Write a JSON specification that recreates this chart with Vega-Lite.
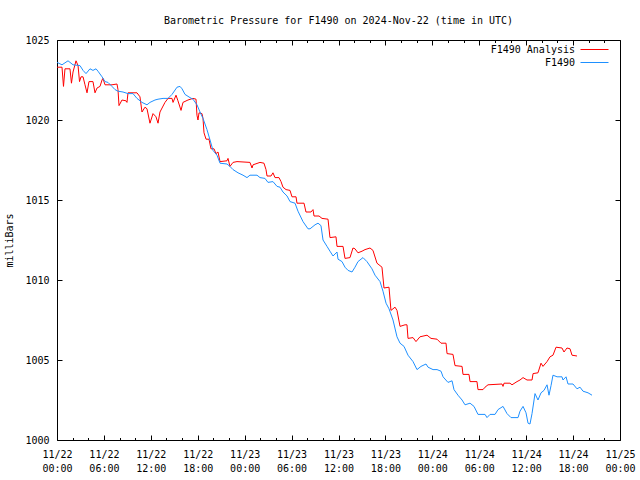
{
  "$schema": "https://vega.github.io/schema/vega-lite/v6.json",
  "autosize": "none",
  "width": 563,
  "height": 400,
  "padding": {"left": 57, "top": 40, "right": 20, "bottom": 40},
  "background": "white",
  "title": {
    "text": "Barometric Pressure for F1490 on 2024-Nov-22 (time in UTC)",
    "font": "DejaVu Sans Mono",
    "fontSize": 10,
    "fontWeight": "normal",
    "color": "black",
    "anchor": "middle",
    "frame": "group",
    "offset": 9
  },
  "config": {
    "view": {"stroke": "black", "strokeWidth": 1},
    "axis": {
      "labelFont": "DejaVu Sans Mono",
      "labelFontSize": 10,
      "labelColor": "black",
      "titleFont": "DejaVu Sans Mono",
      "titleFontSize": 10,
      "titleFontWeight": "normal",
      "titleColor": "black",
      "tickColor": "black",
      "tickWidth": 1,
      "domain": false,
      "grid": false,
      "labelFlush": false,
      "labelOverlap": false
    },
    "legend": {
      "labelFont": "DejaVu Sans Mono",
      "labelFontSize": 10,
      "labelColor": "black"
    }
  },
  "datasets": {
    "pressure": [
      {"series": "F1490 Analysis", "hour": 0, "mb": 1023.3},
      {"series": "F1490 Analysis", "hour": 0.64, "mb": 1023.3},
      {"series": "F1490 Analysis", "hour": 0.83, "mb": 1022.1},
      {"series": "F1490 Analysis", "hour": 1.02, "mb": 1023.2},
      {"series": "F1490 Analysis", "hour": 1.66, "mb": 1023.2},
      {"series": "F1490 Analysis", "hour": 1.85, "mb": 1022.3},
      {"series": "F1490 Analysis", "hour": 2.05, "mb": 1023.0},
      {"series": "F1490 Analysis", "hour": 2.43, "mb": 1023.7},
      {"series": "F1490 Analysis", "hour": 2.69, "mb": 1023.4},
      {"series": "F1490 Analysis", "hour": 2.88, "mb": 1022.4},
      {"series": "F1490 Analysis", "hour": 3.07, "mb": 1022.7},
      {"series": "F1490 Analysis", "hour": 3.33, "mb": 1022.7},
      {"series": "F1490 Analysis", "hour": 3.58, "mb": 1022.2},
      {"series": "F1490 Analysis", "hour": 3.84, "mb": 1021.7},
      {"series": "F1490 Analysis", "hour": 4.09, "mb": 1022.4},
      {"series": "F1490 Analysis", "hour": 4.6, "mb": 1022.4},
      {"series": "F1490 Analysis", "hour": 4.86, "mb": 1021.7},
      {"series": "F1490 Analysis", "hour": 5.12, "mb": 1022.0},
      {"series": "F1490 Analysis", "hour": 5.5, "mb": 1022.1},
      {"series": "F1490 Analysis", "hour": 5.76, "mb": 1022.5},
      {"series": "F1490 Analysis", "hour": 5.88, "mb": 1022.6},
      {"series": "F1490 Analysis", "hour": 6.14, "mb": 1022.2},
      {"series": "F1490 Analysis", "hour": 7.03, "mb": 1022.2},
      {"series": "F1490 Analysis", "hour": 7.67, "mb": 1022.25},
      {"series": "F1490 Analysis", "hour": 7.8, "mb": 1021.9},
      {"series": "F1490 Analysis", "hour": 7.93, "mb": 1020.9},
      {"series": "F1490 Analysis", "hour": 8.31, "mb": 1021.25},
      {"series": "F1490 Analysis", "hour": 8.82, "mb": 1021.2},
      {"series": "F1490 Analysis", "hour": 8.95, "mb": 1021.1},
      {"series": "F1490 Analysis", "hour": 9.08, "mb": 1021.7},
      {"series": "F1490 Analysis", "hour": 10.23, "mb": 1021.7},
      {"series": "F1490 Analysis", "hour": 10.61, "mb": 1021.45},
      {"series": "F1490 Analysis", "hour": 10.87, "mb": 1020.5},
      {"series": "F1490 Analysis", "hour": 11.25, "mb": 1020.8},
      {"series": "F1490 Analysis", "hour": 11.51, "mb": 1020.7},
      {"series": "F1490 Analysis", "hour": 11.7, "mb": 1020.25},
      {"series": "F1490 Analysis", "hour": 11.89, "mb": 1019.8},
      {"series": "F1490 Analysis", "hour": 12.28, "mb": 1020.4},
      {"series": "F1490 Analysis", "hour": 12.66, "mb": 1020.2},
      {"series": "F1490 Analysis", "hour": 12.92, "mb": 1019.8},
      {"series": "F1490 Analysis", "hour": 13.17, "mb": 1020.5},
      {"series": "F1490 Analysis", "hour": 13.81, "mb": 1021.1},
      {"series": "F1490 Analysis", "hour": 14.2, "mb": 1021.35},
      {"series": "F1490 Analysis", "hour": 14.71, "mb": 1021.35},
      {"series": "F1490 Analysis", "hour": 14.84, "mb": 1021.1},
      {"series": "F1490 Analysis", "hour": 15.22, "mb": 1021.55},
      {"series": "F1490 Analysis", "hour": 15.47, "mb": 1021.2},
      {"series": "F1490 Analysis", "hour": 15.86, "mb": 1020.6},
      {"series": "F1490 Analysis", "hour": 16.11, "mb": 1021.1},
      {"series": "F1490 Analysis", "hour": 16.75, "mb": 1021.25},
      {"series": "F1490 Analysis", "hour": 17.39, "mb": 1021.35},
      {"series": "F1490 Analysis", "hour": 17.78, "mb": 1021.3},
      {"series": "F1490 Analysis", "hour": 17.9, "mb": 1020.3},
      {"series": "F1490 Analysis", "hour": 18.03, "mb": 1020.0},
      {"series": "F1490 Analysis", "hour": 18.16, "mb": 1020.45},
      {"series": "F1490 Analysis", "hour": 18.54, "mb": 1020.4},
      {"series": "F1490 Analysis", "hour": 18.67, "mb": 1020.1},
      {"series": "F1490 Analysis", "hour": 18.8, "mb": 1019.2},
      {"series": "F1490 Analysis", "hour": 19.06, "mb": 1018.8},
      {"series": "F1490 Analysis", "hour": 19.44, "mb": 1018.8},
      {"series": "F1490 Analysis", "hour": 19.69, "mb": 1018.2},
      {"series": "F1490 Analysis", "hour": 20.08, "mb": 1018.2},
      {"series": "F1490 Analysis", "hour": 20.33, "mb": 1017.9},
      {"series": "F1490 Analysis", "hour": 20.59, "mb": 1018.0},
      {"series": "F1490 Analysis", "hour": 20.85, "mb": 1017.4},
      {"series": "F1490 Analysis", "hour": 21.74, "mb": 1017.45},
      {"series": "F1490 Analysis", "hour": 21.87, "mb": 1017.6},
      {"series": "F1490 Analysis", "hour": 22.12, "mb": 1017.1},
      {"series": "F1490 Analysis", "hour": 22.51, "mb": 1017.35},
      {"series": "F1490 Analysis", "hour": 23.02, "mb": 1017.4},
      {"series": "F1490 Analysis", "hour": 24.68, "mb": 1017.35},
      {"series": "F1490 Analysis", "hour": 24.94, "mb": 1017.0},
      {"series": "F1490 Analysis", "hour": 25.07, "mb": 1017.2},
      {"series": "F1490 Analysis", "hour": 25.96, "mb": 1017.35},
      {"series": "F1490 Analysis", "hour": 26.47, "mb": 1017.3},
      {"series": "F1490 Analysis", "hour": 26.73, "mb": 1016.9},
      {"series": "F1490 Analysis", "hour": 26.86, "mb": 1016.5},
      {"series": "F1490 Analysis", "hour": 27.37, "mb": 1016.5},
      {"series": "F1490 Analysis", "hour": 27.62, "mb": 1016.7},
      {"series": "F1490 Analysis", "hour": 27.88, "mb": 1016.4},
      {"series": "F1490 Analysis", "hour": 28.39, "mb": 1016.4},
      {"series": "F1490 Analysis", "hour": 28.65, "mb": 1016.15},
      {"series": "F1490 Analysis", "hour": 28.9, "mb": 1015.8},
      {"series": "F1490 Analysis", "hour": 29.29, "mb": 1015.65},
      {"series": "F1490 Analysis", "hour": 29.8, "mb": 1015.6},
      {"series": "F1490 Analysis", "hour": 30.05, "mb": 1015.2},
      {"series": "F1490 Analysis", "hour": 30.57, "mb": 1015.2},
      {"series": "F1490 Analysis", "hour": 30.69, "mb": 1014.8},
      {"series": "F1490 Analysis", "hour": 31.59, "mb": 1014.8},
      {"series": "F1490 Analysis", "hour": 31.84, "mb": 1014.25},
      {"series": "F1490 Analysis", "hour": 32.48, "mb": 1014.25},
      {"series": "F1490 Analysis", "hour": 32.74, "mb": 1014.4},
      {"series": "F1490 Analysis", "hour": 32.87, "mb": 1014.0},
      {"series": "F1490 Analysis", "hour": 33.51, "mb": 1014.0},
      {"series": "F1490 Analysis", "hour": 33.89, "mb": 1013.85},
      {"series": "F1490 Analysis", "hour": 34.66, "mb": 1013.8},
      {"series": "F1490 Analysis", "hour": 34.91, "mb": 1012.65},
      {"series": "F1490 Analysis", "hour": 35.68, "mb": 1012.7},
      {"series": "F1490 Analysis", "hour": 35.81, "mb": 1012.1},
      {"series": "F1490 Analysis", "hour": 36.58, "mb": 1012.1},
      {"series": "F1490 Analysis", "hour": 36.83, "mb": 1011.35},
      {"series": "F1490 Analysis", "hour": 37.47, "mb": 1011.4},
      {"series": "F1490 Analysis", "hour": 37.85, "mb": 1012.0},
      {"series": "F1490 Analysis", "hour": 38.11, "mb": 1011.95},
      {"series": "F1490 Analysis", "hour": 38.49, "mb": 1011.7},
      {"series": "F1490 Analysis", "hour": 39.01, "mb": 1011.8},
      {"series": "F1490 Analysis", "hour": 39.39, "mb": 1011.9},
      {"series": "F1490 Analysis", "hour": 40.03, "mb": 1012.0},
      {"series": "F1490 Analysis", "hour": 40.41, "mb": 1011.85},
      {"series": "F1490 Analysis", "hour": 40.92, "mb": 1011.05},
      {"series": "F1490 Analysis", "hour": 41.56, "mb": 1010.8},
      {"series": "F1490 Analysis", "hour": 41.82, "mb": 1009.5},
      {"series": "F1490 Analysis", "hour": 42.46, "mb": 1009.55},
      {"series": "F1490 Analysis", "hour": 42.71, "mb": 1008.1},
      {"series": "F1490 Analysis", "hour": 43.23, "mb": 1008.3},
      {"series": "F1490 Analysis", "hour": 43.48, "mb": 1008.1},
      {"series": "F1490 Analysis", "hour": 43.87, "mb": 1007.1},
      {"series": "F1490 Analysis", "hour": 44.51, "mb": 1007.2},
      {"series": "F1490 Analysis", "hour": 44.76, "mb": 1007.2},
      {"series": "F1490 Analysis", "hour": 44.89, "mb": 1006.35},
      {"series": "F1490 Analysis", "hour": 45.53, "mb": 1006.4},
      {"series": "F1490 Analysis", "hour": 45.91, "mb": 1006.15},
      {"series": "F1490 Analysis", "hour": 46.42, "mb": 1006.45},
      {"series": "F1490 Analysis", "hour": 47.32, "mb": 1006.55},
      {"series": "F1490 Analysis", "hour": 47.83, "mb": 1006.35},
      {"series": "F1490 Analysis", "hour": 48.6, "mb": 1006.3},
      {"series": "F1490 Analysis", "hour": 49.11, "mb": 1006.05},
      {"series": "F1490 Analysis", "hour": 49.75, "mb": 1006.05},
      {"series": "F1490 Analysis", "hour": 49.88, "mb": 1005.4},
      {"series": "F1490 Analysis", "hour": 50.64, "mb": 1005.35},
      {"series": "F1490 Analysis", "hour": 50.9, "mb": 1004.65},
      {"series": "F1490 Analysis", "hour": 51.8, "mb": 1004.6},
      {"series": "F1490 Analysis", "hour": 51.92, "mb": 1004.1},
      {"series": "F1490 Analysis", "hour": 52.69, "mb": 1004.1},
      {"series": "F1490 Analysis", "hour": 52.82, "mb": 1003.65},
      {"series": "F1490 Analysis", "hour": 53.71, "mb": 1003.65},
      {"series": "F1490 Analysis", "hour": 53.84, "mb": 1003.15},
      {"series": "F1490 Analysis", "hour": 54.48, "mb": 1003.15},
      {"series": "F1490 Analysis", "hour": 54.74, "mb": 1003.3},
      {"series": "F1490 Analysis", "hour": 55.12, "mb": 1003.45},
      {"series": "F1490 Analysis", "hour": 56.91, "mb": 1003.5},
      {"series": "F1490 Analysis", "hour": 57.04, "mb": 1003.35},
      {"series": "F1490 Analysis", "hour": 57.17, "mb": 1003.55},
      {"series": "F1490 Analysis", "hour": 57.93, "mb": 1003.55},
      {"series": "F1490 Analysis", "hour": 58.19, "mb": 1003.45},
      {"series": "F1490 Analysis", "hour": 58.83, "mb": 1003.65},
      {"series": "F1490 Analysis", "hour": 59.21, "mb": 1003.75},
      {"series": "F1490 Analysis", "hour": 59.6, "mb": 1003.9},
      {"series": "F1490 Analysis", "hour": 60.11, "mb": 1003.75},
      {"series": "F1490 Analysis", "hour": 60.75, "mb": 1003.75},
      {"series": "F1490 Analysis", "hour": 60.88, "mb": 1004.15},
      {"series": "F1490 Analysis", "hour": 61.51, "mb": 1004.2},
      {"series": "F1490 Analysis", "hour": 61.9, "mb": 1004.8},
      {"series": "F1490 Analysis", "hour": 62.15, "mb": 1004.6},
      {"series": "F1490 Analysis", "hour": 62.67, "mb": 1004.9},
      {"series": "F1490 Analysis", "hour": 63.05, "mb": 1005.2},
      {"series": "F1490 Analysis", "hour": 63.43, "mb": 1005.3},
      {"series": "F1490 Analysis", "hour": 63.82, "mb": 1005.8},
      {"series": "F1490 Analysis", "hour": 64.58, "mb": 1005.75},
      {"series": "F1490 Analysis", "hour": 64.84, "mb": 1005.5},
      {"series": "F1490 Analysis", "hour": 65.22, "mb": 1005.75},
      {"series": "F1490 Analysis", "hour": 65.61, "mb": 1005.7},
      {"series": "F1490 Analysis", "hour": 65.86, "mb": 1005.3},
      {"series": "F1490 Analysis", "hour": 66.5, "mb": 1005.25},
      {"series": "F1490", "hour": 0, "mb": 1023.6},
      {"series": "F1490", "hour": 0.64, "mb": 1023.45},
      {"series": "F1490", "hour": 1.41, "mb": 1023.7},
      {"series": "F1490", "hour": 2.05, "mb": 1023.45},
      {"series": "F1490", "hour": 2.94, "mb": 1023.4},
      {"series": "F1490", "hour": 3.33, "mb": 1023.1},
      {"series": "F1490", "hour": 3.71, "mb": 1022.9},
      {"series": "F1490", "hour": 4.22, "mb": 1023.2},
      {"series": "F1490", "hour": 4.6, "mb": 1023.1},
      {"series": "F1490", "hour": 4.99, "mb": 1023.2},
      {"series": "F1490", "hour": 5.24, "mb": 1023.05},
      {"series": "F1490", "hour": 5.76, "mb": 1022.7},
      {"series": "F1490", "hour": 6.14, "mb": 1022.4},
      {"series": "F1490", "hour": 6.52, "mb": 1022.35},
      {"series": "F1490", "hour": 7.03, "mb": 1022.1},
      {"series": "F1490", "hour": 7.42, "mb": 1021.9},
      {"series": "F1490", "hour": 7.8, "mb": 1021.8},
      {"series": "F1490", "hour": 8.44, "mb": 1021.75},
      {"series": "F1490", "hour": 9.08, "mb": 1021.65},
      {"series": "F1490", "hour": 9.72, "mb": 1021.65},
      {"series": "F1490", "hour": 10.23, "mb": 1021.35},
      {"series": "F1490", "hour": 10.87, "mb": 1021.1},
      {"series": "F1490", "hour": 11.51, "mb": 1020.95},
      {"series": "F1490", "hour": 11.89, "mb": 1021.1},
      {"series": "F1490", "hour": 12.53, "mb": 1021.25},
      {"series": "F1490", "hour": 12.92, "mb": 1021.3},
      {"series": "F1490", "hour": 13.56, "mb": 1021.35},
      {"series": "F1490", "hour": 14.2, "mb": 1021.35},
      {"series": "F1490", "hour": 14.71, "mb": 1021.6},
      {"series": "F1490", "hour": 15.35, "mb": 1022.05},
      {"series": "F1490", "hour": 15.73, "mb": 1022.1},
      {"series": "F1490", "hour": 15.99, "mb": 1021.95},
      {"series": "F1490", "hour": 16.37, "mb": 1021.6},
      {"series": "F1490", "hour": 17.01, "mb": 1021.4},
      {"series": "F1490", "hour": 17.39, "mb": 1021.3},
      {"series": "F1490", "hour": 17.9, "mb": 1020.95},
      {"series": "F1490", "hour": 18.29, "mb": 1020.5},
      {"series": "F1490", "hour": 18.67, "mb": 1020.1},
      {"series": "F1490", "hour": 19.18, "mb": 1019.4},
      {"series": "F1490", "hour": 19.57, "mb": 1018.75},
      {"series": "F1490", "hour": 19.95, "mb": 1018.1},
      {"series": "F1490", "hour": 20.46, "mb": 1017.8},
      {"series": "F1490", "hour": 20.85, "mb": 1017.3},
      {"series": "F1490", "hour": 21.74, "mb": 1017.25},
      {"series": "F1490", "hour": 22.12, "mb": 1017.1},
      {"series": "F1490", "hour": 22.51, "mb": 1016.9},
      {"series": "F1490", "hour": 23.15, "mb": 1016.7},
      {"series": "F1490", "hour": 23.79, "mb": 1016.55},
      {"series": "F1490", "hour": 24.3, "mb": 1016.4},
      {"series": "F1490", "hour": 24.68, "mb": 1016.55},
      {"series": "F1490", "hour": 25.58, "mb": 1016.55},
      {"series": "F1490", "hour": 25.96, "mb": 1016.4},
      {"series": "F1490", "hour": 26.6, "mb": 1016.35},
      {"series": "F1490", "hour": 26.98, "mb": 1016.1},
      {"series": "F1490", "hour": 27.62, "mb": 1016.15},
      {"series": "F1490", "hour": 28.14, "mb": 1015.85},
      {"series": "F1490", "hour": 28.52, "mb": 1015.8},
      {"series": "F1490", "hour": 28.9, "mb": 1015.5},
      {"series": "F1490", "hour": 29.42, "mb": 1015.25},
      {"series": "F1490", "hour": 29.8, "mb": 1014.9},
      {"series": "F1490", "hour": 30.44, "mb": 1014.8},
      {"series": "F1490", "hour": 30.82, "mb": 1014.3},
      {"series": "F1490", "hour": 31.46, "mb": 1013.65},
      {"series": "F1490", "hour": 32.1, "mb": 1013.2},
      {"series": "F1490", "hour": 32.36, "mb": 1013.2},
      {"series": "F1490", "hour": 33.0, "mb": 1013.45},
      {"series": "F1490", "hour": 33.38, "mb": 1013.55},
      {"series": "F1490", "hour": 33.76, "mb": 1013.4},
      {"series": "F1490", "hour": 34.02, "mb": 1012.5},
      {"series": "F1490", "hour": 34.53, "mb": 1012.1},
      {"series": "F1490", "hour": 34.91, "mb": 1011.8},
      {"series": "F1490", "hour": 35.3, "mb": 1011.5},
      {"series": "F1490", "hour": 35.81, "mb": 1011.75},
      {"series": "F1490", "hour": 35.94, "mb": 1011.3},
      {"series": "F1490", "hour": 36.45, "mb": 1011.15},
      {"series": "F1490", "hour": 36.83, "mb": 1010.8},
      {"series": "F1490", "hour": 37.22, "mb": 1010.6},
      {"series": "F1490", "hour": 37.73, "mb": 1010.5},
      {"series": "F1490", "hour": 38.11, "mb": 1010.8},
      {"series": "F1490", "hour": 38.49, "mb": 1011.15},
      {"series": "F1490", "hour": 39.13, "mb": 1011.4},
      {"series": "F1490", "hour": 39.64, "mb": 1011.15},
      {"series": "F1490", "hour": 40.28, "mb": 1010.7},
      {"series": "F1490", "hour": 40.67, "mb": 1010.3},
      {"series": "F1490", "hour": 41.31, "mb": 1009.9},
      {"series": "F1490", "hour": 41.69, "mb": 1009.3},
      {"series": "F1490", "hour": 42.08, "mb": 1008.55},
      {"series": "F1490", "hour": 42.46, "mb": 1008.2},
      {"series": "F1490", "hour": 42.97, "mb": 1007.5},
      {"series": "F1490", "hour": 43.48, "mb": 1006.45},
      {"series": "F1490", "hour": 43.87, "mb": 1006.05},
      {"series": "F1490", "hour": 44.38, "mb": 1005.85},
      {"series": "F1490", "hour": 44.89, "mb": 1005.3},
      {"series": "F1490", "hour": 45.53, "mb": 1004.9},
      {"series": "F1490", "hour": 46.04, "mb": 1004.4},
      {"series": "F1490", "hour": 46.55, "mb": 1004.6},
      {"series": "F1490", "hour": 47.19, "mb": 1004.75},
      {"series": "F1490", "hour": 47.45, "mb": 1004.55},
      {"series": "F1490", "hour": 48.09, "mb": 1004.4},
      {"series": "F1490", "hour": 48.6, "mb": 1004.4},
      {"series": "F1490", "hour": 49.11, "mb": 1004.3},
      {"series": "F1490", "hour": 49.37, "mb": 1003.95},
      {"series": "F1490", "hour": 50.0, "mb": 1003.6},
      {"series": "F1490", "hour": 50.52, "mb": 1003.7},
      {"series": "F1490", "hour": 50.77, "mb": 1003.15},
      {"series": "F1490", "hour": 51.28, "mb": 1002.8},
      {"series": "F1490", "hour": 51.8, "mb": 1002.5},
      {"series": "F1490", "hour": 52.18, "mb": 1002.2},
      {"series": "F1490", "hour": 52.82, "mb": 1002.3},
      {"series": "F1490", "hour": 53.33, "mb": 1002.1},
      {"series": "F1490", "hour": 53.84, "mb": 1001.6},
      {"series": "F1490", "hour": 54.74, "mb": 1001.6},
      {"series": "F1490", "hour": 54.99, "mb": 1001.4},
      {"series": "F1490", "hour": 55.38, "mb": 1001.6},
      {"series": "F1490", "hour": 56.02, "mb": 1001.6},
      {"series": "F1490", "hour": 56.4, "mb": 1001.9},
      {"series": "F1490", "hour": 57.04, "mb": 1002.1},
      {"series": "F1490", "hour": 57.55, "mb": 1001.65},
      {"series": "F1490", "hour": 58.06, "mb": 1001.4},
      {"series": "F1490", "hour": 58.96, "mb": 1001.4},
      {"series": "F1490", "hour": 59.21, "mb": 1001.8},
      {"series": "F1490", "hour": 59.6, "mb": 1002.1},
      {"series": "F1490", "hour": 59.98, "mb": 1001.7},
      {"series": "F1490", "hour": 60.24, "mb": 1001.05},
      {"series": "F1490", "hour": 60.49, "mb": 1001.0},
      {"series": "F1490", "hour": 60.75, "mb": 1001.65},
      {"series": "F1490", "hour": 61.13, "mb": 1002.9},
      {"series": "F1490", "hour": 61.51, "mb": 1002.5},
      {"series": "F1490", "hour": 61.9, "mb": 1002.95},
      {"series": "F1490", "hour": 62.28, "mb": 1003.1},
      {"series": "F1490", "hour": 62.67, "mb": 1003.45},
      {"series": "F1490", "hour": 62.92, "mb": 1002.8},
      {"series": "F1490", "hour": 63.18, "mb": 1003.4},
      {"series": "F1490", "hour": 63.43, "mb": 1004.05},
      {"series": "F1490", "hour": 63.95, "mb": 1003.95},
      {"series": "F1490", "hour": 64.58, "mb": 1003.95},
      {"series": "F1490", "hour": 64.71, "mb": 1003.75},
      {"series": "F1490", "hour": 65.1, "mb": 1003.95},
      {"series": "F1490", "hour": 65.35, "mb": 1003.5},
      {"series": "F1490", "hour": 65.99, "mb": 1003.5},
      {"series": "F1490", "hour": 66.5, "mb": 1003.2},
      {"series": "F1490", "hour": 66.89, "mb": 1003.3},
      {"series": "F1490", "hour": 67.27, "mb": 1003.05},
      {"series": "F1490", "hour": 67.91, "mb": 1002.95},
      {"series": "F1490", "hour": 68.42, "mb": 1002.8}
    ]
  },
  "data": {"name": "pressure"},
  "resolve": {"axis": {"x": "independent", "y": "independent"}},
  "layer": [
    {
      "mark": {"type": "line", "strokeWidth": 1, "interpolate": "linear"},
      "encoding": {
        "x": {
          "field": "hour", "type": "quantitative",
          "scale": {"domain": [0, 72], "nice": false, "zero": false},
          "axis": {
            "orient": "bottom",
            "title": null,
            "values": [0, 6, 12, 18, 24, 30, 36, 42, 48, 54, 60, 66, 72],
            "tickSize": -5,
            "labelPadding": 14,
            "labelBaseline": "top",
            "labelLineHeight": 14,
            "labelExpr": "['11/' + (22 + floor(datum.value / 24)), ((datum.value % 24) < 10 ? '0' : '') + (datum.value % 24) + ':00']"
          }
        },
        "y": {
          "field": "mb", "type": "quantitative",
          "scale": {"domain": [1000, 1025], "nice": false, "zero": false},
          "axis": {
            "orient": "left",
            "title": "milliBars",
            "titlePadding": 10,
            "format": "d",
            "values": [1000, 1005, 1010, 1015, 1020, 1025],
            "tickSize": -5,
            "labelPadding": 13
          }
        },
        "color": {
          "field": "series", "type": "nominal",
          "scale": {"domain": ["F1490 Analysis", "F1490"], "range": ["#ff0000", "#1e90ff"]},
          "legend": {
            "title": null,
            "orient": "none",
            "legendX": 532,
            "legendY": 4,
            "symbolType": "M-2.8,0H2.8",
            "symbolSize": 100,
            "symbolStrokeWidth": 1,
            "labelAlign": "right",
            "labelOffset": -25,
            "rowPadding": 2,
            "padding": 0
          }
        }
      }
    },
    {
      "mark": {"type": "line", "strokeOpacity": 0},
      "encoding": {
        "x": {
          "field": "hour", "type": "quantitative",
          "axis": {"orient": "top", "title": null, "labels": false,
                   "values": [0, 6, 12, 18, 24, 30, 36, 42, 48, 54, 60, 66, 72], "tickSize": -5}
        },
        "y": {
          "field": "mb", "type": "quantitative",
          "axis": {"orient": "right", "title": null, "labels": false,
                   "values": [1000, 1005, 1010, 1015, 1020, 1025], "tickSize": -5}
        },
        "detail": {"field": "series"}
      }
    },
    {
      "mark": {"type": "line", "strokeOpacity": 0},
      "encoding": {
        "x": {
          "field": "hour", "type": "quantitative",
          "axis": {"orient": "bottom", "title": null, "labels": false,
                   "values": [2, 4, 8, 10, 14, 16, 20, 22, 26, 28, 32, 34, 38, 40, 44, 46, 50, 52, 56, 58, 62, 64, 68, 70], "tickSize": -2.5}
        },
        "y": {"field": "mb", "type": "quantitative", "axis": null},
        "detail": {"field": "series"}
      }
    },
    {
      "mark": {"type": "line", "strokeOpacity": 0},
      "encoding": {
        "x": {
          "field": "hour", "type": "quantitative",
          "axis": {"orient": "top", "title": null, "labels": false,
                   "values": [2, 4, 8, 10, 14, 16, 20, 22, 26, 28, 32, 34, 38, 40, 44, 46, 50, 52, 56, 58, 62, 64, 68, 70], "tickSize": -2.5}
        },
        "y": {"field": "mb", "type": "quantitative", "axis": null},
        "detail": {"field": "series"}
      }
    }
  ]
}
